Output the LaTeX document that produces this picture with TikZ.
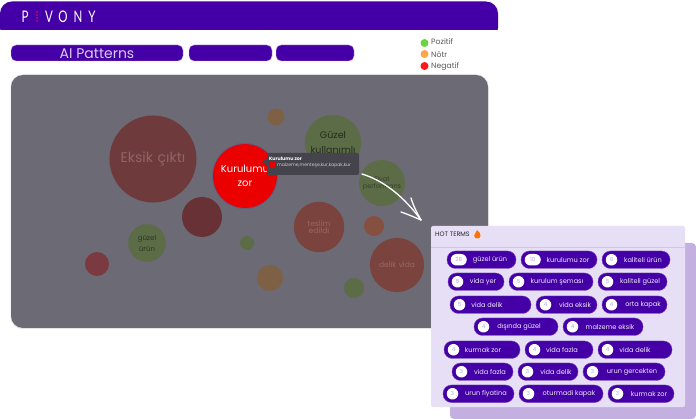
\documentclass[tikz,border=0pt]{standalone}
\usepackage{graphicx}
\usepackage{fontspec}
\setmainfont{Poppins}
\newfontfamily\logofont{Lato}
\definecolor{brand}{HTML}{4400A6}
\definecolor{panelgrey}{HTML}{6C6A74}
\definecolor{lilac}{HTML}{E6DFF5}
\definecolor{lilacdark}{HTML}{C4B0E0}
\definecolor{bred}{HTML}{6F3A3C}
\definecolor{bredb}{HTML}{7A433E}
\definecolor{bredc}{HTML}{7A3A40}
\definecolor{bgreen}{HTML}{5B6C47}
\definecolor{borange}{HTML}{7E6145}
\definecolor{bbrick}{HTML}{85503F}
\definecolor{ltxt}{HTML}{5A5A5A}
\definecolor{tipgrey}{HTML}{45434B}
\tikzset{
  bubble/.style={circle,inner sep=0pt,align=center,text width=#1*2pt,minimum size=#1*2pt},
  pill/.style={rounded corners=8.5pt,fill=brand,draw=brand!75!white,line width=.4pt,minimum height=17.5pt,inner sep=0pt},
  badge/.style={rectangle,rounded corners=5.7pt,fill=white,inner sep=0pt,minimum height=11.5pt,text=brand!35!white,font=\fontsize{5.5}{6}\selectfont},
  pilltxt/.style={text=white!92!brand,font=\fontsize{6.6}{7}\selectfont,inner sep=0pt},
  tab/.style={rounded corners=5pt,fill=brand,draw=lilacdark,line width=.4pt,minimum height=16pt,inner sep=0pt},
  legdot/.style={circle,inner sep=0pt,minimum size=8pt},
  legtxt/.style={text=ltxt,font=\fontsize{7.7}{8}\selectfont,inner sep=0pt,anchor=west},
  logo/.style={text=white,font=\logofont\fontsize{16}{16}\selectfont,inner sep=0pt},
  arrowline/.style={draw=white,line width=1.3pt,line cap=round,line join=round}
}
\newcommand{\logoletter}[1]{\scalebox{.72}[1]{#1}}
\newcommand{\badgewd}{11.5}
\newcommand{\pillitem}[7]{% name, x1, x2, ytop, number, text centre, label
  \pgfmathsetmacro{\pw}{#3-#2}
  \pgfmathsetmacro{\pc}{(#2+#3)/2}
  \pgfmathsetmacro{\py}{#4+8.75}
  \pgfmathsetmacro{\bx}{#2+3.75+\badgewd/2}
  \node[pill,minimum width=\pw pt] (#1) at (\pc,\py) {};
  \node[badge,minimum width=\badgewd pt] (#1b) at (\bx,\py) {#5};
  \node[pilltxt] (#1t) at (#6,\py) {#7};
}
\begin{document}
\begin{tikzpicture}[x=1pt,y=-1pt]
\useasboundingbox (0,0) rectangle (696,419);
\fill[white] (0,0) rectangle (696,419);
% header
\fill[brand,rounded corners=12pt] (0,40) -- (0,1.5) -- (498,1.5) -- (498,40) -- cycle;
\fill[white] (0,30.5) rectangle (499,42);
\node[logo] (lp) at (25,17) {\logoletter{P}};
\node[logo] (lv) at (49,17) {\logoletter{V}};
\node[logo] (lo) at (63,17) {\logoletter{O}};
\node[logo] (ln) at (78,17) {\logoletter{N}};
\node[logo] (ly) at (92,17) {\logoletter{Y}};
\foreach \yy in {12,15,18,21}{\fill[magenta!80!red] (37,\yy) circle (.8);}
% tabs
\node[tab,minimum width=172pt] (t1) at (97,53) {};
\node[text=white!80!brand,font=\fontsize{14}{14}\selectfont,inner sep=0pt] (t1t) at (97,54) {AI Patterns};
\node[tab,minimum width=83pt] (t2) at (230.5,53) {};
\node[tab,minimum width=78pt] (t3) at (315,53) {};
% legend
\node[legdot,fill=green!55!olive!75!white] (d1) at (424.5,43) {};
\node[legdot,fill=orange!70!white] (d2) at (424.5,54) {};
\node[legdot,fill=red!90!white] (d3) at (424.5,66) {};
\node[legtxt] (l1) at (431,42) {Pozitif};
\node[legtxt] (l2) at (431,54.5) {Nötr};
\node[legtxt] (l3) at (431,66.5) {Negatif};
% main panel
\fill[black!10,rounded corners=12pt] (10.5,74.5) rectangle (488.5,329);
\fill[panelgrey,rounded corners=12pt] (11,75) rectangle (488,328);
% bubbles
\node[bubble=43,fill=bred,text=white!22!bred,font=\fontsize{14}{16}\selectfont] (eksik) at (153,159) {\centering Eksik çıktı};
\node[bubble=8.5,fill=borange] (b2) at (276,117) {};
\node[bubble=26,fill=bgreen,text=black!60!bgreen,font=\fontsize{9.5}{15}\selectfont] (guzel) at (333,143) {\centering Güzel\\ kullanımlı};
\node[bubble=22,fill=bgreen,text=black!40!bgreen,font=\fontsize{6.5}{7}\selectfont] (fiyat) at (382,183) {\centering Fiyat\\ performans};
\node[bubble=20,fill=bredc!85!black] (b5) at (202,217) {};
\node[bubble=24.5,fill=bredb,text=white!20!bredb,font=\fontsize{7.6}{6.5}\selectfont] (teslim) at (319,227) {\centering teslim\\ edildi};
\node[bubble=10,fill=bbrick] (b7) at (374,226) {};
\node[bubble=27,fill=bredb,text=white!20!bredb,font=\fontsize{7.5}{8}\selectfont] (delik) at (397,265) {\centering delik vida};
\node[bubble=10,fill=bgreen] (b9) at (354,288) {};
\node[bubble=13,fill=borange] (b10) at (270,278) {};
\node[bubble=7,fill=bgreen] (b11) at (247,243) {};
\node[bubble=17,fill=bgreen,text=black!50!bgreen,font=\fontsize{7}{11}\selectfont] (gurun) at (147,243) {\centering güzel\\ ürün};
\node[bubble=12,fill=bredc] (b13) at (97,264) {};
% highlighted bubble
\foreach \rr/\oo in {33/.12,32/.18,31/.25}{\fill[brand,opacity=\oo] (245,176) circle (\rr);}
\node[bubble=30,fill=red!92!black,text=white,font=\fontsize{10}{14}\selectfont] (kur) at (245,176) {\centering Kurulumu\\ zor};
% tooltip
\fill[tipgrey,rounded corners=2pt] (267,153) rectangle (359,175);
\fill[tipgrey] (262,162) -- (267.5,158) -- (267.5,166) -- cycle;
\node[text=white,font=\fontsize{4.7}{5}\selectfont\bfseries,inner sep=0pt,anchor=west] (ttt) at (269,158.5) {Kurulumu zor};
\fill[red!90!black] (269,162) rectangle (275.5,168.5);
\node[text=white!80!black,font=\fontsize{4.6}{5}\selectfont,inner sep=0pt,anchor=west] (ttb) at (277,165.5) {malzeme,menteşe,kur,kapak,kur};
% back panel + hot terms panel
\fill[lilacdark,rounded corners=4pt] (450,243) rectangle (696,419);
\fill[lilac,rounded corners=2pt] (431,226) rectangle (685,407);
\draw[black!10!lilac,line width=.6pt] (431,247) -- (685,247);
\node[text=black!85,font=\fontsize{6.4}{7}\selectfont,inner sep=0pt,anchor=west] (hot) at (435,234) {HOT TERMS};
\fill[orange!90!red] (477.5,238.5) .. controls (474,238.5) and (473.5,235) .. (475.5,233) .. controls (476.5,232) and (477,231) .. (477,230) .. controls (479,231.5) and (481,234) .. (480.5,236) .. controls (480.2,237.5) and (479,238.5) .. (477.5,238.5) -- cycle;
% pills
\renewcommand{\badgewd}{16}
\pillitem{p1}{447}{516}{251}{28}{490}{güzel ürün}
\pillitem{p2}{521}{597}{251}{10}{568}{kurulumu zor}
\renewcommand{\badgewd}{11.5}
\pillitem{p3}{602}{670}{251}{6}{643}{kaliteli ürün}
\pillitem{p4}{448}{504}{273}{5}{483}{vida yer}
\pillitem{p5}{509}{593}{273}{5}{557}{kurulum şeması}
\pillitem{p6}{598}{667}{273}{5}{640}{kaliteli güzel}
\pillitem{p7}{450}{531}{296}{5}{487}{vida delik}
\pillitem{p8}{536}{597}{296}{4}{575}{vida eksik}
\pillitem{p9}{602}{667}{296}{4}{643}{orta kapak}
\pillitem{p10}{474}{558}{318}{4}{519}{dışında güzel}
\pillitem{p11}{563}{643}{318}{4}{610}{malzeme eksik}
\pillitem{p12}{444}{520}{341}{4}{483}{kurmak zor}
\pillitem{p13}{525}{593}{341}{4}{562}{vida fazla}
\pillitem{p14}{598}{672}{341}{4}{635}{vida delik}
\pillitem{p15}{452}{513}{363}{3}{490}{vida fazla}
\pillitem{p16}{518}{578}{363}{3}{556}{vida delik}
\pillitem{p17}{583}{665}{363}{3}{632}{urun gercekten}
\pillitem{p18}{443}{514}{385}{3}{486}{urun fiyatina}
\pillitem{p19}{519}{603}{385}{3}{569}{oturmadi kapak}
\pillitem{p20}{608}{674}{385}{3}{649}{kurmak zor}
% arrow
\coordinate (astart) at (362,174);
\coordinate (atip) at (421,220);
\coordinate (abarbup) at (411,198);
\coordinate (abarblow) at (401,212);
\draw[arrowline] (astart) .. controls (385,181) and (405,198) .. (atip);
\draw[arrowline] (abarbup) .. controls (413,205) and (417,213) .. (atip);
\draw[arrowline] (abarblow) .. controls (407,214) and (414,217) .. (atip);
\end{tikzpicture}
\end{document}
